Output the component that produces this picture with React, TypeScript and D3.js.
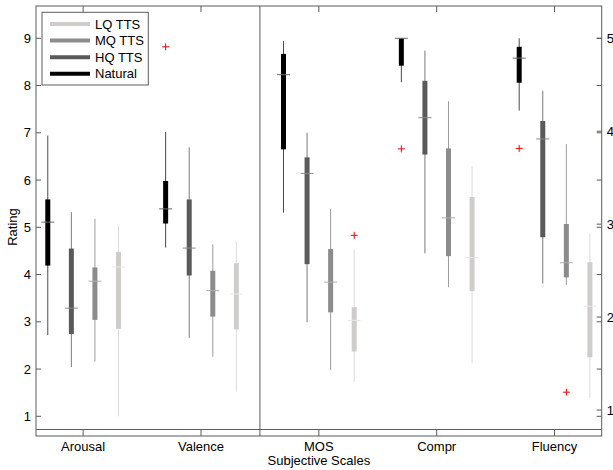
import React from "react";
import * as d3 from "d3";

const categories = ["Arousal", "Valence", "MOS", "Compr", "Fluency"];
const seriesNames = ["LQ TTS", "MQ TTS", "HQ TTS", "Natural"];
// each entry: [whiskerLow, q1, median, q3, whiskerHigh]
const naturalStats = [
  [2.72, 4.19, 5.11, 5.59, 6.94],
  [4.57, 5.08, 5.39, 5.98, 7.02],
  [5.31, 6.65, 8.23, 8.67, 8.94],
  [8.07, 8.42, 9.0, 9.0, 9.0],
  [7.47, 8.06, 8.58, 8.82, 9.0],
];
const hqStats = [
  [2.04, 2.74, 3.29, 4.55, 5.32],
  [2.66, 3.98, 4.56, 5.59, 6.69],
  [2.99, 4.22, 6.14, 6.48, 7.0],
  [4.45, 6.54, 7.32, 8.1, 8.74],
  [3.81, 4.79, 6.87, 7.25, 7.89],
];
const mqStats = [
  [2.16, 3.04, 3.86, 4.15, 5.18],
  [2.26, 3.11, 3.66, 4.08, 4.64],
  [1.98, 3.2, 3.84, 4.54, 5.39],
  [3.73, 4.39, 5.2, 6.67, 7.67],
  [3.78, 3.94, 4.25, 5.07, 6.76],
];
const lqStats = [
  [1.0, 2.85, 4.16, 4.48, 5.03],
  [1.52, 2.84, 3.59, 4.24, 4.7],
  [1.73, 2.37, 3.03, 3.31, 4.53],
  [2.12, 3.65, 4.36, 5.64, 6.29],
  [1.39, 2.25, 3.33, 4.26, 4.87],
];
// outliers: [categoryIndex, seriesKey, value]
const outliers: [number, string, number][] = [
  [1, "natural", 8.82],
  [2, "lq", 4.83],
  [3, "natural", 6.66],
  [4, "natural", 6.67],
  [4, "mq", 1.51],
];
const leftTicks = [1, 2, 3, 4, 5, 6, 7, 8, 9];
const rightTicks = [1, 2, 3, 4, 5];

const series = [
  { key: "natural", stats: naturalStats, offset: -0.3, box: "#000000", whisker: "#4a4a4a", median: "#6a6a6a" },
  { key: "hq", stats: hqStats, offset: -0.1, box: "#5a5a5a", whisker: "#7a7a7a", median: "#8a8a8a" },
  { key: "mq", stats: mqStats, offset: 0.1, box: "#8c8c8c", whisker: "#9c9c9c", median: "#b0b0b0" },
  { key: "lq", stats: lqStats, offset: 0.3, box: "#cfcccc", whisker: "#dadada", median: "#e8e8e8" },
];
const legendColors = ["#cfcccc", "#8c8c8c", "#5a5a5a", "#000000"];

const W = 613, H = 470;
const left = 36, right = 601.7, top = 6, bottom = 436, innerLine = 429.5;
const font = "'Liberation Sans', Arial, sans-serif";

export default function App() {
  const x = d3.scaleLinear().domain([0.6, 5.4]).range([left, right]);
  const y = d3.scaleLinear().domain([1, 9]).range([416.3, 38.3]);
  const yR = d3.scaleLinear().domain([1, 5]).range([410, 38.3]);
  const axisColor = "#5c5c5c";
  const bw = 5, mw = 13;
  const divider = x(2.5);

  return (
    <svg width={W} height={H} style={{ position: "absolute", left: 0, top: 0, background: "#fff" }}>
      {/* frame */}
      <rect x={left} y={top} width={right - left} height={bottom - top} fill="none" stroke={axisColor} strokeWidth={1} />
      <line x1={left} x2={right} y1={innerLine} y2={innerLine} stroke={axisColor} />
      <line x1={divider} x2={divider} y1={top} y2={bottom} stroke={axisColor} />
      {/* left ticks */}
      {leftTicks.map((t) => (
        <g key={"l" + t}>
          <line x1={left} x2={left + 5} y1={y(t)} y2={y(t)} stroke={axisColor} />
          <line x1={right} x2={right - 5} y1={y(t)} y2={y(t)} stroke={axisColor} />
          <text x={left - 5} y={y(t)} dy="0.35em" textAnchor="end" fontFamily={font} fontSize={13} fill="#000">{t}</text>
        </g>
      ))}
      {rightTicks.map((t) => (
        <g key={"r" + t}>
          <line x1={right} x2={right - 5} y1={yR(t)} y2={yR(t)} stroke={axisColor} />
          <text x={right + 5} y={yR(t)} dy="0.35em" textAnchor="start" fontFamily={font} fontSize={13} fill="#000">{t}</text>
        </g>
      ))}
      {/* category ticks and labels */}
      {categories.map((c, i) => (
        <g key={c}>
          <line x1={x(i + 1)} x2={x(i + 1)} y1={innerLine} y2={bottom} stroke={axisColor} />
          <line x1={x(i + 1)} x2={x(i + 1)} y1={top} y2={top + 6} stroke={axisColor} />
          <text x={x(i + 1)} y={450.5} textAnchor="middle" fontFamily={font} fontSize={13} fill="#000">{c}</text>
        </g>
      ))}
      <text x={x(3)} y={464.5} textAnchor="middle" fontFamily={font} fontSize={13} fill="#000">Subjective Scales</text>
      <text transform={`translate(16.5,227) rotate(-90)`} textAnchor="middle" fontFamily={font} fontSize={13} fill="#000">Rating</text>
      {/* boxes */}
      {series.map((s) =>
        s.stats.map((st, i) => {
          const cx = x(i + 1 + s.offset);
          const [wl, q1, md, q3, wh] = st;
          return (
            <g key={s.key + i}>
              <line x1={cx} x2={cx} y1={y(wl)} y2={y(wh)} stroke={s.whisker} strokeWidth={1} />
              <rect x={cx - bw / 2} y={y(q3)} width={bw} height={Math.max(0.5, y(q1) - y(q3))} fill={s.box} />
              <line x1={cx - mw / 2} x2={cx + mw / 2} y1={y(md)} y2={y(md)} stroke={s.median} strokeWidth={1} />
            </g>
          );
        })
      )}
      {/* outliers */}
      {outliers.map(([ci, key, v], k) => {
        const s = series.find((ss) => ss.key === key)!;
        const cx = x(ci + 1 + s.offset);
        const cy = y(v);
        return (
          <g key={"o" + k} stroke="#ff0000" strokeWidth={1}>
            <line x1={cx - 3.5} x2={cx + 3.5} y1={cy} y2={cy} />
            <line x1={cx} x2={cx} y1={cy - 3.5} y2={cy + 3.5} />
          </g>
        );
      })}
      {/* legend */}
      <rect x={42} y={12.3} width={106.3} height={72.7} fill="#fff" stroke={axisColor} />
      {seriesNames.map((n, i) => {
        const ly = 24 + i * 16.6;
        return (
          <g key={n}>
            <line x1={50} x2={90} y1={ly} y2={ly} stroke={legendColors[i]} strokeWidth={4} />
            <text x={95} y={ly} dy="0.35em" fontFamily={font} fontSize={13} fill="#000">{n}</text>
          </g>
        );
      })}
    </svg>
  );
}
